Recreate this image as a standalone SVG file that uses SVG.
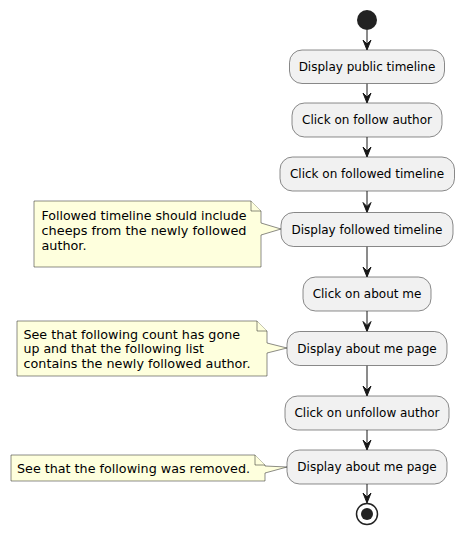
<svg xmlns="http://www.w3.org/2000/svg" width="464" height="536" viewBox="0 0 464 536">
<style>
.act{fill:#F1F1F1;stroke:#181818;stroke-width:0.5}
.note{fill:#FEFFDD;stroke:#181818;stroke-width:0.5}
.t{font-family:"DejaVu Sans",sans-serif;font-size:12px;fill:#000;text-anchor:middle}
.nt{font-family:"DejaVu Sans",sans-serif;font-size:12.7px;fill:#000}
.ln{stroke:#181818;stroke-width:1;fill:none}
.ah{fill:#181818;stroke:#181818;stroke-width:1}
</style>
<defs>
<polygon id="head" points="-4,-10 0,0 4,-10 0,-6" class="ah"/>
</defs>
<g id="start"><circle cx="367" cy="20" r="10" fill="#222222"/></g>
<g id="connectors">
<line class="ln" x1="367" y1="30" x2="367" y2="49"/><use href="#head" x="367" y="50"/>
<line class="ln" x1="367" y1="83.5" x2="367" y2="102"/><use href="#head" x="367" y="103"/>
<line class="ln" x1="367" y1="137" x2="367" y2="156"/><use href="#head" x="367" y="157"/>
<line class="ln" x1="367" y1="191" x2="367" y2="211.5"/><use href="#head" x="367" y="212.5"/>
<line class="ln" x1="367" y1="246.5" x2="367" y2="276"/><use href="#head" x="367" y="277"/>
<line class="ln" x1="367" y1="311" x2="367" y2="330.5"/><use href="#head" x="367" y="331.5"/>
<line class="ln" x1="367" y1="365.5" x2="367" y2="395"/><use href="#head" x="367" y="396"/>
<line class="ln" x1="367" y1="430" x2="367" y2="449"/><use href="#head" x="367" y="450"/>
<line class="ln" x1="367" y1="484" x2="367" y2="502"/><use href="#head" x="367" y="503"/>
</g>
<g id="a1"><rect class="act" x="289.5" y="50" width="155" height="33.5" rx="12.5"/><text class="t" x="367" y="71">Display public timeline</text></g>
<g id="a2"><rect class="act" x="292" y="103" width="150" height="34" rx="12.5"/><text class="t" x="367" y="124">Click on follow author</text></g>
<g id="a3"><rect class="act" x="280" y="157" width="174.5" height="34" rx="12.5"/><text class="t" x="367" y="178">Click on followed timeline</text></g>
<g id="a4"><rect class="act" x="281" y="212.5" width="172" height="34" rx="12.5"/><text class="t" x="367" y="233.5">Display followed timeline</text></g>
<g id="a5"><rect class="act" x="303" y="277" width="128" height="34" rx="12.5"/><text class="t" x="367" y="298">Click on about me</text></g>
<g id="a6"><rect class="act" x="287" y="331.5" width="160" height="34" rx="12.5"/><text class="t" x="367" y="352.5">Display about me page</text></g>
<g id="a7"><rect class="act" x="285" y="396" width="164" height="34" rx="12.5"/><text class="t" x="367" y="417">Click on unfollow author</text></g>
<g id="a8"><rect class="act" x="287" y="450" width="160" height="34" rx="12.5"/><text class="t" x="367" y="471">Display about me page</text></g>
<g id="end"><circle cx="367" cy="514" r="10.5" fill="none" stroke="#222222" stroke-width="1.5"/><circle cx="367" cy="514" r="6" fill="#222222"/></g>
<g id="n1">
<path class="note" d="M34,201 L251,201 L261,211 L261,223 L281,229 L261,235 L261,267 L34,267 Z"/>
<path class="note" d="M251,201 L251,211 L261,211" fill="none"/>
<text class="nt" x="41.5" y="219.5" textLength="205" lengthAdjust="spacingAndGlyphs">Followed timeline should include</text>
<text class="nt" x="41.5" y="234.5" textLength="205" lengthAdjust="spacingAndGlyphs">cheeps from the newly followed</text>
<text class="nt" x="41.5" y="249.5" textLength="45" lengthAdjust="spacingAndGlyphs">author.</text>
</g>
<g id="n2">
<path class="note" d="M17,321 L257,321 L267,331 L267,343 L287,348 L267,353 L267,376 L17,376 Z"/>
<path class="note" d="M257,321 L257,331 L267,331" fill="none"/>
<text class="nt" x="23.5" y="338.5" textLength="216.5" lengthAdjust="spacingAndGlyphs">See that following count has gone</text>
<text class="nt" x="23.5" y="353" textLength="180.5" lengthAdjust="spacingAndGlyphs">up and that the following list</text>
<text class="nt" x="23.5" y="367.5" textLength="227" lengthAdjust="spacingAndGlyphs">contains the newly followed author.</text>
</g>
<g id="n3">
<path class="note" d="M11,455 L255,455 L265,465 L265,466 L287,467 L265,473 L265,481 L11,481 Z"/>
<path class="note" d="M255,455 L255,465 L265,465" fill="none"/>
<text class="nt" x="17" y="472.5" textLength="233" lengthAdjust="spacingAndGlyphs">See that the following was removed.</text>
</g>
</svg>
